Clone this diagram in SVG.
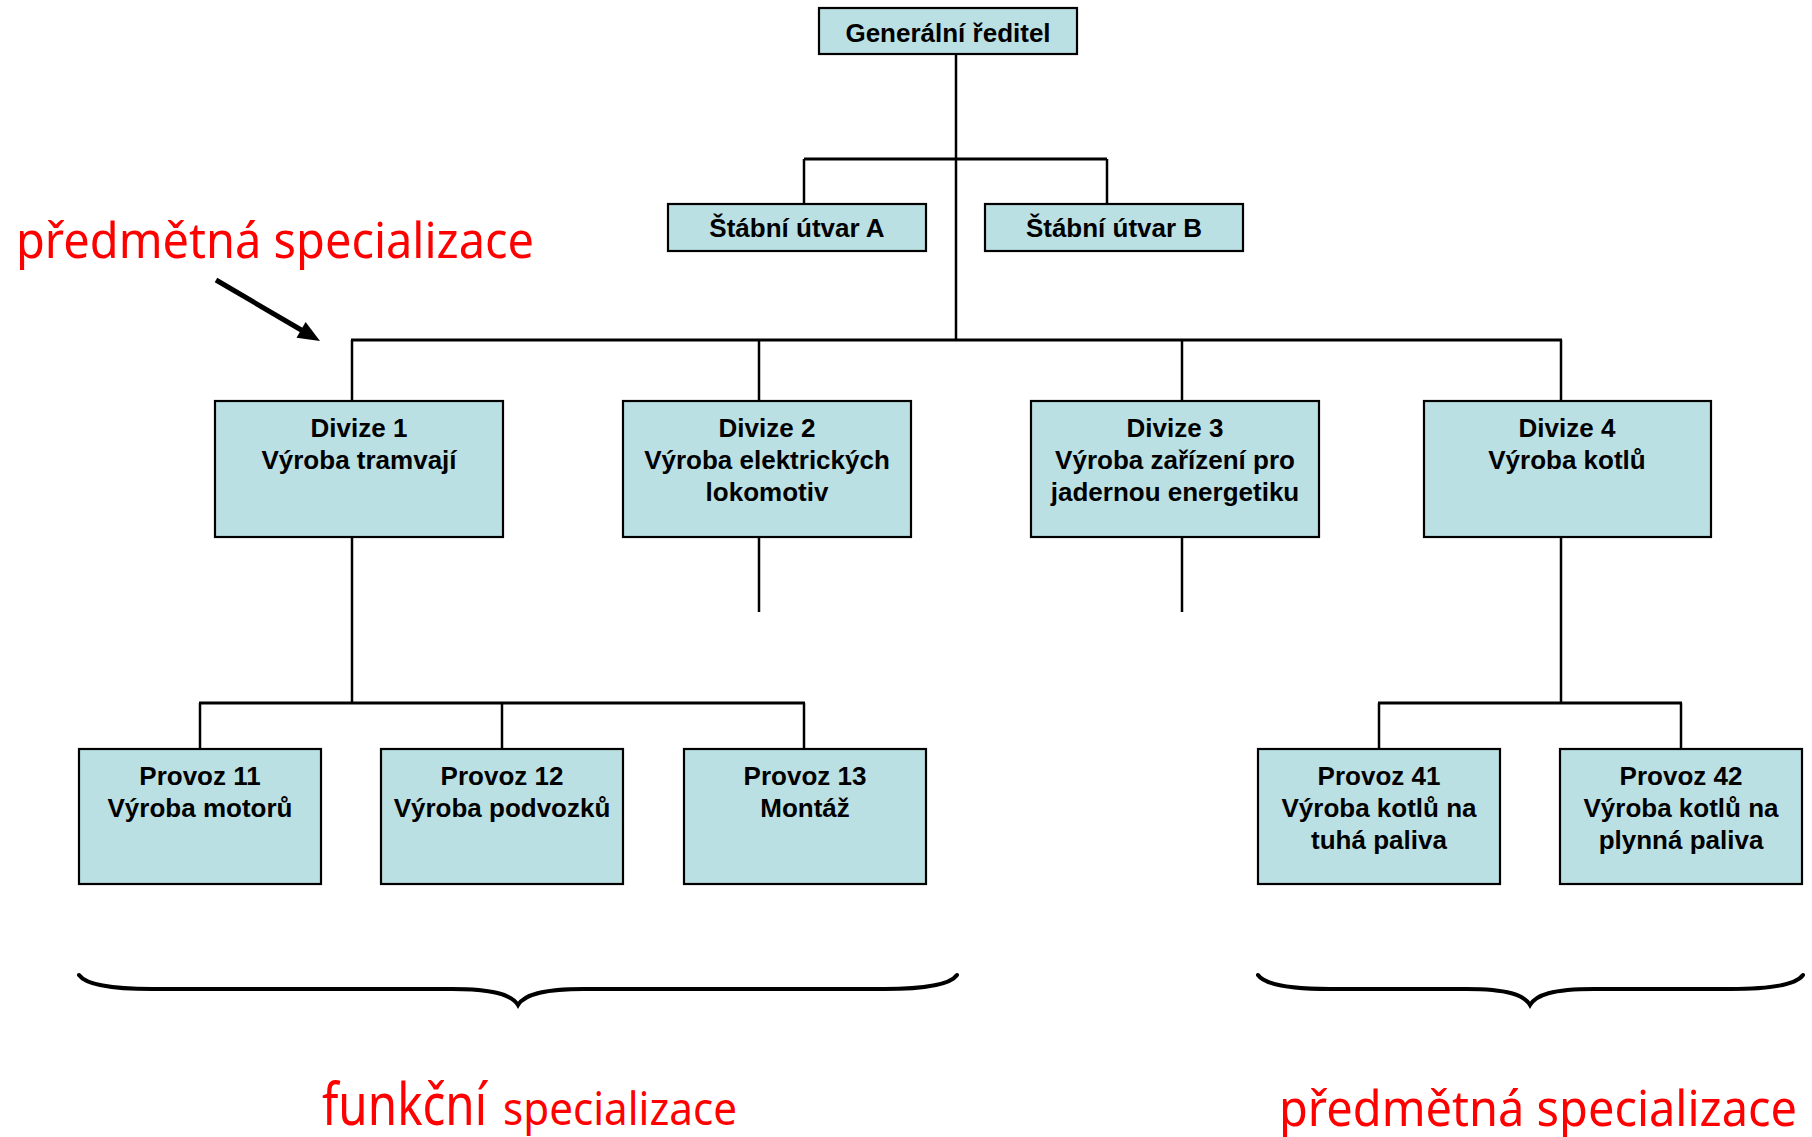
<svg xmlns="http://www.w3.org/2000/svg" width="1812" height="1137" viewBox="0 0 1812 1137">
<defs>
<style>
.box{fill:#BBE0E3;stroke:#000;stroke-width:2.2}
.t{font-family:"Liberation Sans",Arial,sans-serif;font-weight:bold;font-size:26px;fill:#000;text-anchor:middle}
.v{stroke:#000;stroke-width:2.5;fill:none}
.h{stroke:#000;stroke-width:3.2;fill:none}
.red{font-family:"Noto Sans",sans-serif;fill:#FF0000}
.brace{stroke:#000;stroke-width:4;fill:none;stroke-linecap:round}
</style>
</defs>
<rect width="1812" height="1137" fill="#fff"/>
<g id="connectors">
<line class="v" x1="956" y1="54" x2="956" y2="340"/>
<line class="h" x1="804" y1="159" x2="1107" y2="159"/>
<line class="v" x1="804" y1="159" x2="804" y2="204"/>
<line class="v" x1="1107" y1="159" x2="1107" y2="204"/>
<line class="h" x1="351" y1="340" x2="1562" y2="340"/>
<line class="v" x1="352" y1="340" x2="352" y2="401"/>
<line class="v" x1="759" y1="340" x2="759" y2="401"/>
<line class="v" x1="1182" y1="340" x2="1182" y2="401"/>
<line class="v" x1="1561" y1="340" x2="1561" y2="401"/>
<line class="v" x1="352" y1="537" x2="352" y2="703"/>
<line class="v" x1="759" y1="537" x2="759" y2="612"/>
<line class="v" x1="1182" y1="537" x2="1182" y2="612"/>
<line class="v" x1="1561" y1="537" x2="1561" y2="703"/>
<line class="h" x1="199" y1="703" x2="805" y2="703"/>
<line class="v" x1="200" y1="703" x2="200" y2="749"/>
<line class="v" x1="502" y1="703" x2="502" y2="749"/>
<line class="v" x1="804" y1="703" x2="804" y2="749"/>
<line class="h" x1="1378" y1="703" x2="1682" y2="703"/>
<line class="v" x1="1379" y1="703" x2="1379" y2="749"/>
<line class="v" x1="1681" y1="703" x2="1681" y2="749"/>
</g>
<g id="gr"><rect class="box" x="819" y="8" width="258" height="46"/><text class="t" x="948" y="42">Generální ředitel</text></g>
<g id="stabA"><rect class="box" x="668" y="204" width="258" height="47"/><text class="t" x="797" y="237">Štábní útvar A</text></g>
<g id="stabB"><rect class="box" x="985" y="204" width="258" height="47"/><text class="t" x="1114" y="237">Štábní útvar B</text></g>
<g id="div1"><rect class="box" x="215" y="401" width="288" height="136"/><text class="t" x="359" y="437">Divize 1</text><text class="t" x="359" y="469">Výroba tramvají</text></g>
<g id="div2"><rect class="box" x="623" y="401" width="288" height="136"/><text class="t" x="767" y="437">Divize 2</text><text class="t" x="767" y="469">Výroba elektrických</text><text class="t" x="767" y="501">lokomotiv</text></g>
<g id="div3"><rect class="box" x="1031" y="401" width="288" height="136"/><text class="t" x="1175" y="437">Divize 3</text><text class="t" x="1175" y="469">Výroba zařízení pro</text><text class="t" x="1175" y="501">jadernou energetiku</text></g>
<g id="div4"><rect class="box" x="1424" y="401" width="287" height="136"/><text class="t" x="1567" y="437">Divize 4</text><text class="t" x="1567" y="469">Výroba kotlů</text></g>
<g id="p11"><rect class="box" x="79" y="749" width="242" height="135"/><text class="t" x="200" y="785">Provoz 11</text><text class="t" x="200" y="817">Výroba motorů</text></g>
<g id="p12"><rect class="box" x="381" y="749" width="242" height="135"/><text class="t" x="502" y="785">Provoz 12</text><text class="t" x="502" y="817">Výroba podvozků</text></g>
<g id="p13"><rect class="box" x="684" y="749" width="242" height="135"/><text class="t" x="805" y="785">Provoz 13</text><text class="t" x="805" y="817">Montáž</text></g>
<g id="p41"><rect class="box" x="1258" y="749" width="242" height="135"/><text class="t" x="1379" y="785">Provoz 41</text><text class="t" x="1379" y="817">Výroba kotlů na</text><text class="t" x="1379" y="849">tuhá paliva</text></g>
<g id="p42"><rect class="box" x="1560" y="749" width="242" height="135"/><text class="t" x="1681" y="785">Provoz 42</text><text class="t" x="1681" y="817">Výroba kotlů na</text><text class="t" x="1681" y="849">plynná paliva</text></g>
<g id="annotations">
<text class="red" x="16" y="258" font-size="50" textLength="518" lengthAdjust="spacingAndGlyphs">předmětná specializace</text>
<line x1="216" y1="280" x2="303" y2="331" stroke="#000" stroke-width="5"/>
<polygon points="320,341 296.5,337.7 305.6,322.1" fill="#000"/>
<path class="brace" d="M79,975 C86,985 112,989 152,989 L452,989 C494,989 512,995 518,1005 C524,995 542,989 584,989 L884,989 C924,989 950,985 957,975"/>
<path class="brace" d="M1258,975 C1265,985 1290,989 1330,989 L1466,989 C1508,989 1524,995 1530,1005 C1536,995 1552,989 1594,989 L1730,989 C1770,989 1796,985 1803,975"/>
<text class="red" x="322" y="1125" font-size="58" textLength="165" lengthAdjust="spacingAndGlyphs">funkční</text>
<text class="red" x="503" y="1125" font-size="46" textLength="234" lengthAdjust="spacingAndGlyphs">specializace</text>
<text class="red" x="1279" y="1126" font-size="50" textLength="518" lengthAdjust="spacingAndGlyphs">předmětná specializace</text>
</g>
</svg>
